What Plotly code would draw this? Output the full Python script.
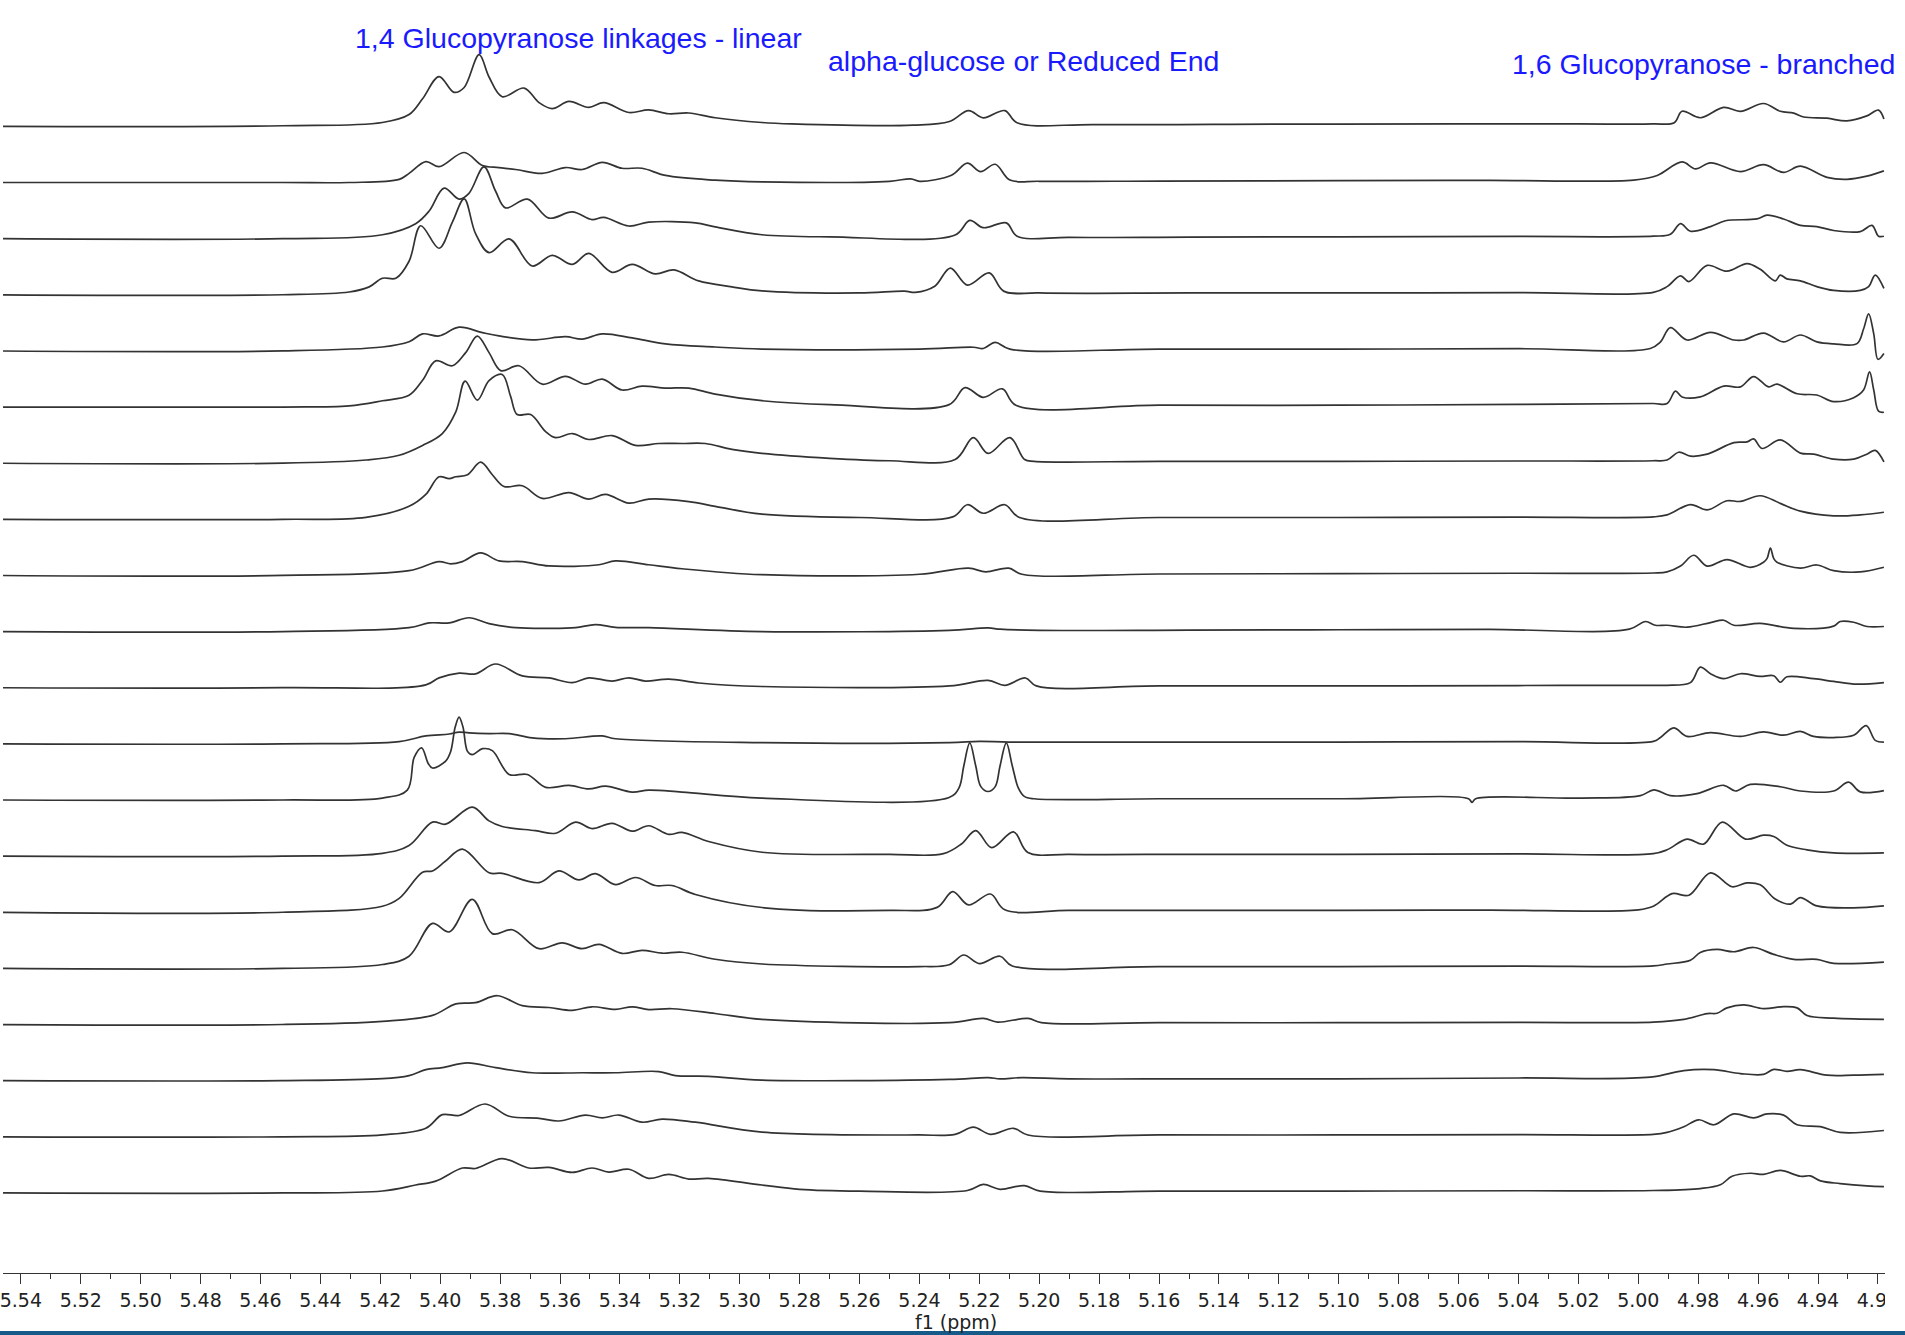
import plotly.graph_objects as go

# Stacked 1H NMR spectra, anomeric region. Each spectrum is a list of
# (chemical shift in ppm, intensity in arbitrary units) points, top trace first.
s01 = [(5.55,0),(5.4526,0.5),(5.4193,3.2),(5.4104,9.7),(5.4059,22.7),(5.4004,41),(5.3954,28),(5.392,32),(5.387,59),(5.3837,40.6),(5.3793,24.4),(5.372,31.5),(5.367,19.5),(5.3626,14.6),(5.357,20.5),(5.3504,15.6),(5.3454,19.5),(5.337,11.4),(5.3304,13.6),(5.3237,10.4),(5.317,11),(5.3082,7.1),(5.2926,3.2),(5.2827,2),(5.2422,1),(5.23,4),(5.2236,13),(5.2187,7),(5.2115,13),(5.2074,3),(5.1815,1.5),(5.12,1.8),(5.06,2),(5.02,2),(4.995,2),(4.988,3),(4.9854,12.4),(4.9793,7.1),(4.9715,15.6),(4.9659,12.4),(4.9582,18.8),(4.9526,12.4),(4.9481,10.9),(4.9448,7.7),(4.937,6.7),(4.9304,4.5),(4.9237,8.6),(4.9198,13.4),(4.918,6.1)]
s02 = [(5.55,0),(5.4526,0),(5.4304,0),(5.4137,2.6),(5.4104,7.5),(5.4048,17.2),(5.4004,13),(5.392,24.7),(5.3859,14),(5.3804,12.3),(5.3748,10.7),(5.3659,7.5),(5.3582,12.3),(5.3526,10.7),(5.3459,16.6),(5.3393,11.7),(5.3326,11.7),(5.3248,5.8),(5.3082,1.9),(5.2926,0.5),(5.25,1),(5.2429,3),(5.2399,1),(5.2293,6),(5.224,16),(5.2196,9),(5.2147,15),(5.2098,2),(5.2,1),(5.16,1.2),(5.1,1.5),(5.05,1.8),(5.0015,2),(4.9937,5.8),(4.9854,16.9),(4.9809,11.2),(4.9759,16.2),(4.9659,9),(4.9582,14.7),(4.9515,8.3),(4.9459,13.4),(4.937,4.2),(4.9304,2.6),(4.9237,5.2),(4.918,9.6)]
s03 = [(5.55,0),(5.4526,0),(5.4193,3.2),(5.4082,12.3),(5.4037,22.7),(5.3987,41.6),(5.3937,32.5),(5.3904,37.3),(5.3854,59),(5.3815,39),(5.3782,25.3),(5.3709,32.5),(5.3637,16.9),(5.3559,22),(5.3493,15.6),(5.3454,17.5),(5.337,10.4),(5.3304,13.6),(5.3148,13),(5.3082,9.7),(5.2926,3.2),(5.27,1.5),(5.2281,3),(5.2232,15),(5.2187,9),(5.211,13),(5.2074,2),(5.19,1),(5.15,1.3),(5.1,1.5),(5.04,1.8),(4.995,2),(4.9893,3.6),(4.9859,12.4),(4.9826,6.1),(4.9759,9.9),(4.9709,14.7),(4.9604,16.2),(4.957,19.4),(4.9515,16.2),(4.9459,10.9),(4.9404,9.9),(4.9348,6.7),(4.9259,5.8),(4.922,10.9),(4.9198,2),(4.918,2)]
s04 = [(5.55,0),(5.4526,0),(5.4304,2.3),(5.4237,6.5),(5.4193,13.6),(5.4148,13.6),(5.4104,27.6),(5.4065,56.8),(5.4004,38.3),(5.3959,60),(5.392,78.9),(5.3882,50.3),(5.3837,34.7),(5.377,46),(5.3693,23.7),(5.3626,32.5),(5.3559,25),(5.3504,34),(5.3426,18.5),(5.3359,25),(5.3282,17.2),(5.322,20.5),(5.3137,11.4),(5.3026,6.5),(5.2926,3.2),(5.26,1.5),(5.245,3),(5.2414,2),(5.2349,7),(5.2297,22),(5.224,8),(5.2167,18),(5.2119,3),(5.2,1.5),(5.15,1.5),(5.1,1.5),(5.04,1.8),(4.995,2),(4.9904,6.7),(4.9859,15.6),(4.9831,10.9),(4.977,24.2),(4.9704,19.4),(4.9637,25.7),(4.9593,21),(4.9543,11.5),(4.9526,16.2),(4.9504,13.1),(4.9459,11.5),(4.9404,6.7),(4.9348,3.6),(4.9259,3.6),(4.9231,6.7),(4.9209,16.2),(4.918,5.2)]
s05 = [(5.55,0),(5.4526,0),(5.4193,3.2),(5.4104,7.5),(5.4059,14),(5.4004,12.3),(5.3937,19.5),(5.3859,15),(5.3804,12.3),(5.3693,9),(5.3582,11.7),(5.3526,9.7),(5.3459,14),(5.3359,10.7),(5.3248,5.8),(5.3082,3.2),(5.2926,1.5),(5.24,1.5),(5.222,3),(5.2187,2),(5.2147,7),(5.2098,1.5),(5.16,1.5),(5.1,1.5),(5.04,1.8),(4.996,2),(4.9926,7.4),(4.9893,19.1),(4.9837,9),(4.9759,15.3),(4.9681,9),(4.9648,9),(4.9582,14.7),(4.9515,7.4),(4.9459,13.1),(4.9404,7.4),(4.9348,5.8),(4.927,6),(4.9248,18),(4.9231,30.5),(4.9214,14),(4.92,-6.9),(4.918,-2.1)]
s06 = [(5.55,0),(5.4526,0),(5.4304,1),(5.4193,5.2),(5.4104,9.7),(5.4059,22),(5.4015,38),(5.3959,34),(5.3915,44.8),(5.3876,58.4),(5.3837,44.8),(5.3798,30),(5.3737,34),(5.3659,18.8),(5.3582,25.3),(5.3515,18.8),(5.3459,23),(5.3393,14),(5.3326,17.2),(5.3248,15.6),(5.317,15.6),(5.3082,10.7),(5.2926,5.2),(5.27,2),(5.2301,2),(5.2248,16),(5.2187,8),(5.2123,15),(5.2078,1.5),(5.16,1.5),(5.1,1.5),(5.04,2.2),(4.995,2.9),(4.9904,2.9),(4.9876,13.1),(4.9854,8.3),(4.9793,8.3),(4.9715,17.2),(4.9659,16.6),(4.9615,25.1),(4.9565,16.6),(4.9537,18.8),(4.947,10.9),(4.9404,9.9),(4.9348,4.5),(4.9281,7.7),(4.9248,14),(4.9228,28.9),(4.9214,14),(4.9198,-3.4),(4.918,-4.3)]
s07 = [(5.55,0),(5.4526,0),(5.4248,2.6),(5.4137,6.5),(5.4059,14.6),(5.3993,24.4),(5.3948,42.2),(5.3917,67.5),(5.3876,51.9),(5.3837,68),(5.3793,73),(5.3765,55),(5.3743,40),(5.3698,40),(5.3648,26),(5.3615,21),(5.3559,24.4),(5.3504,19.5),(5.3426,22.7),(5.3348,14.6),(5.327,16.2),(5.3193,16.2),(5.3115,16.2),(5.3026,11.4),(5.2926,8.1),(5.27,4),(5.25,2),(5.2281,3),(5.222,21),(5.2171,8),(5.2098,21),(5.2049,3),(5.2017,1.5),(5.16,1.5),(5.1,1.5),(5.04,1.8),(4.995,2),(4.9904,2.6),(4.9865,9),(4.9826,5.8),(4.977,7.4),(4.9681,16.9),(4.9637,17.5),(4.9615,20),(4.9587,12.1),(4.9526,19.1),(4.9459,8.3),(4.9415,7.4),(4.9348,3.3),(4.9281,3.3),(4.9237,7.4),(4.9209,10.5),(4.918,1)]
s08 = [(5.55,0),(5.4526,0),(5.4248,1.6),(5.4104,10.7),(5.4048,20.5),(5.4004,35),(5.397,33.5),(5.3948,35),(5.3909,36.7),(5.3865,47),(5.3826,36.7),(5.3787,27),(5.3726,27.6),(5.3659,17.2),(5.357,22),(5.3504,16.6),(5.3448,20.5),(5.337,13.3),(5.3304,16.6),(5.317,14.6),(5.3082,10.7),(5.2926,4.2),(5.26,1.5),(5.2289,2),(5.224,12),(5.2187,5),(5.2115,12),(5.2066,1.5),(5.16,1.5),(5.1,1.5),(5.04,1.8),(4.995,2),(4.9904,3.6),(4.9826,12.1),(4.977,7.7),(4.9704,15.3),(4.9659,14.7),(4.9593,19.4),(4.9526,13.1),(4.9459,6.7),(4.9348,2.9),(4.9259,3.6),(4.918,5.8)]
s09 = [(5.55,0),(5.4526,0),(5.4104,3.9),(5.4004,11.4),(5.3965,9.5),(5.3926,11.4),(5.3865,18.5),(5.3804,12),(5.3726,11.4),(5.3637,7.8),(5.347,8.8),(5.3415,12),(5.3304,8.8),(5.3193,5.5),(5.2926,0.6),(5.24,1),(5.2236,6),(5.2179,3),(5.2102,6),(5.2058,1),(5.16,1.2),(5.1,1.5),(5.04,1.8),(4.995,2),(4.9904,2.9),(4.9859,7.7),(4.9815,16.6),(4.977,7.7),(4.9704,13.1),(4.9626,6.7),(4.9582,10.9),(4.957,14),(4.9559,22.6),(4.9548,14),(4.9537,10.9),(4.9459,6.1),(4.9404,8.6),(4.9348,3.9),(4.9259,2.9),(4.918,6.7)]
s10 = [(5.55,0),(5.4526,0),(5.4104,3.2),(5.4037,7.1),(5.397,7.1),(5.3904,11.4),(5.3837,6.5),(5.3748,3.2),(5.3637,2.6),(5.3548,3.2),(5.3482,5.8),(5.3415,3.5),(5.3304,3.2),(5.2926,0),(5.23,1),(5.2171,3),(5.2131,2),(5.2,1),(5.15,1.2),(5.1,1.5),(5.05,1.8),(5.003,2),(4.9976,8.3),(4.9943,5.2),(4.9904,5.2),(4.9837,3.6),(4.9759,7.4),(4.9715,9.3),(4.9681,5.2),(4.9593,6.7),(4.9481,2.6),(4.9348,4.5),(4.9326,8.3),(4.9281,7.7),(4.9237,4.2),(4.918,4.2)]
s11 = [(5.55,0),(5.4526,0),(5.4048,2.3),(5.4004,8.1),(5.3937,12),(5.3882,11.4),(5.3815,19.5),(5.3726,9.7),(5.3637,8.1),(5.3559,4.2),(5.3504,8.1),(5.3426,5.5),(5.337,8.1),(5.3315,5.5),(5.3237,7.1),(5.3137,3.9),(5.2926,1),(5.23,1.5),(5.2171,6),(5.2115,2),(5.2046,8),(5.201,1.5),(5.16,1.5),(5.1,1.5),(5.04,1.8),(4.995,2),(4.9904,2),(4.9826,4.2),(4.9793,16.9),(4.9759,11.5),(4.9715,7.4),(4.9659,11.5),(4.9593,9.3),(4.9548,9.9),(4.9526,4.5),(4.9504,9),(4.9415,7.4),(4.9348,5.2),(4.927,2.9),(4.918,4.2)]
s12 = [(5.55,0),(5.4526,0),(5.4137,1.9),(5.4048,6.5),(5.397,8.1),(5.3937,9.7),(5.3904,9),(5.3837,8.4),(5.377,8.4),(5.3693,4.9),(5.3582,4.2),(5.3459,6.5),(5.3415,4.2),(5.2926,1),(5.23,1),(5.22,2),(5.21,1.5),(5.16,1.5),(5.1,1.5),(5.04,1.8),(4.995,2),(4.9926,5.2),(4.9882,13.1),(4.9837,6.1),(4.9759,9.3),(4.9659,6.1),(4.9582,9.9),(4.9515,7.1),(4.9459,10.2),(4.9415,6.1),(4.9348,5.2),(4.9281,7.1),(4.9239,15),(4.9209,2.9),(4.918,1.4)]
s13 = [(5.55,0),(5.4526,0),(5.4193,1.6),(5.411,8.1),(5.4087,35),(5.4062,42.9),(5.404,30),(5.4026,26.3),(5.3982,32),(5.3965,40),(5.395,60),(5.3937,68.2),(5.3924,60),(5.3909,40),(5.3893,37.3),(5.3859,42.2),(5.3826,40.6),(5.377,21),(5.3709,21),(5.3648,10.4),(5.357,12),(5.3504,9.1),(5.3448,11.4),(5.3359,6.5),(5.3304,8.1),(5.3193,6.5),(5.2926,1.6),(5.2301,2),(5.2268,10),(5.2252,28),(5.2232,47),(5.2212,28),(5.2195,11),(5.2171,7),(5.2147,11),(5.2131,28),(5.211,47),(5.209,28),(5.207,10),(5.205,3),(5.2017,1),(5.16,1),(5.1,1),(5.0567,1),(5.0555,-2),(5.0543,1),(5.02,1.5),(4.9993,3.6),(4.9948,8.3),(4.9893,3.6),(4.9804,5.2),(4.9715,12.1),(4.9676,7.4),(4.9626,12.8),(4.9526,10.9),(4.9459,7.4),(4.9348,7.4),(4.9298,14.7),(4.9259,6.7),(4.918,7.7)]
s14 = [(5.55,0),(5.4526,0),(5.4193,2.3),(5.4104,8.8),(5.4026,28),(5.3982,26.3),(5.3893,40.3),(5.3837,29),(5.3793,24.4),(5.3682,21),(5.3615,18.8),(5.3548,28),(5.3493,22.7),(5.3426,27),(5.3359,20.5),(5.3304,25),(5.3237,17.9),(5.3193,19.5),(5.3104,12),(5.2926,3.2),(5.25,1.5),(5.232,2),(5.226,10),(5.2212,21),(5.2159,7),(5.2086,20),(5.2038,3),(5.19,1.5),(5.15,1.5),(5.1,1.5),(5.04,1.8),(4.995,2),(4.9904,5.2),(4.9837,14),(4.9782,9.9),(4.972,28),(4.9642,14),(4.9582,17.2),(4.9548,16.2),(4.9504,9),(4.9437,5.2),(4.9348,2.6),(4.918,2.6)]
s15 = [(5.55,0),(5.4526,0),(5.4193,4.9),(5.4137,11.4),(5.4059,33),(5.4026,34),(5.3982,42.2),(5.3926,52),(5.3837,32.5),(5.3793,32),(5.367,24.4),(5.3604,34),(5.3537,26.6),(5.3482,31.8),(5.3415,22.7),(5.3348,28.6),(5.3282,22),(5.3226,22),(5.3148,14.6),(5.2926,3.9),(5.25,1.5),(5.2341,4),(5.2289,17),(5.2236,6),(5.2163,15),(5.2115,2),(5.19,1.5),(5.15,1.5),(5.1,1.5),(5.05,1.8),(5.0,2),(4.9948,5.2),(4.9887,15.3),(4.9831,14),(4.9759,32.4),(4.9687,21),(4.9637,24.2),(4.9593,22.6),(4.9543,10.9),(4.9492,6.7),(4.9459,12.1),(4.9404,5.2),(4.9281,3.6),(4.918,5.2)]
s16 = [(5.55,0),(5.4526,0),(5.4193,3.2),(5.4104,10),(5.4026,37),(5.397,30),(5.3893,56.8),(5.3826,28.6),(5.3759,31.8),(5.367,16.2),(5.3593,21),(5.3526,16.2),(5.347,19.8),(5.3393,12.3),(5.3326,14.9),(5.3259,12.5),(5.3193,13.3),(5.3082,7.5),(5.2926,3.6),(5.24,1.5),(5.2301,3),(5.2252,11),(5.22,4),(5.2131,10),(5.209,2),(5.16,1.5),(5.1,1.5),(5.04,1.8),(4.995,2),(4.9904,3.6),(4.9826,6.7),(4.9793,13.1),(4.9737,15.6),(4.9681,13.7),(4.9615,17.2),(4.9548,11.5),(4.9481,7.4),(4.9404,7.4),(4.9348,4.2),(4.918,5.2)]
s17 = [(5.55,0),(5.4526,0),(5.4193,2.6),(5.4026,7.5),(5.3948,17),(5.3882,18),(5.3809,23.7),(5.3726,15.6),(5.3637,14),(5.3559,11.7),(5.3493,14.6),(5.3415,12.5),(5.3359,14.6),(5.3304,12.3),(5.3226,13),(5.3082,9.1),(5.2926,4.2),(5.23,1.5),(5.2187,5),(5.2139,2),(5.2038,5),(5.1993,1.5),(5.16,1.5),(5.1,1.5),(5.04,1.8),(4.995,2),(4.9848,4.2),(4.977,9),(4.9737,9.3),(4.9704,13.7),(4.9648,16.2),(4.9582,13.1),(4.9515,14.7),(4.947,13.7),(4.9437,7.4),(4.9348,5.2),(4.918,4.2)]
s18 = [(5.55,0),(5.4526,0),(5.4193,1.6),(5.4104,4.2),(5.4048,9.1),(5.3993,10.7),(5.3909,14.6),(5.3815,10.7),(5.3693,6.5),(5.3526,6.5),(5.3415,6.5),(5.327,7.5),(5.3215,4.2),(5.3104,3.6),(5.2926,0.5),(5.23,1),(5.2171,2.5),(5.2131,1.5),(5.2058,2.5),(5.19,1.5),(5.15,1.5),(5.1,1.5),(5.04,2.2),(4.996,2.9),(4.9848,8.3),(4.9748,9),(4.9659,5.8),(4.9582,5.2),(4.9548,9.3),(4.9504,7.7),(4.9459,9),(4.937,4.5),(4.9281,4.5),(4.918,5.2)]
s19 = [(5.55,0),(5.4526,0),(5.4193,1.6),(5.4048,7.1),(5.3993,18.2),(5.3937,17.5),(5.385,27),(5.377,16.9),(5.367,15.2),(5.3604,13),(5.3515,17.9),(5.3459,15.5),(5.3404,17.9),(5.3326,12),(5.3259,14.6),(5.3148,12),(5.2926,3.9),(5.24,1.5),(5.2281,2),(5.222,8),(5.2163,2),(5.2086,7),(5.2038,1.5),(5.16,1.5),(5.1,1.5),(5.04,1.8),(4.995,2),(4.9904,3.6),(4.9848,8.3),(4.9798,14),(4.9748,9.9),(4.9681,18.8),(4.9615,15.6),(4.957,18.8),(4.9515,17.8),(4.947,9.9),(4.9392,8.3),(4.9326,3.6),(4.918,5.2)]
s20 = [(5.55,0),(5.4526,0),(5.4193,1.6),(5.4082,6.5),(5.4015,9.7),(5.3926,20.5),(5.3882,20.1),(5.3793,28.2),(5.3704,20.5),(5.3637,21),(5.3559,16.9),(5.3493,20.5),(5.3437,17.2),(5.337,19.5),(5.3304,12),(5.3237,15.2),(5.317,11.4),(5.3104,12),(5.2926,6.5),(5.28,3),(5.26,1.5),(5.224,2),(5.2187,7),(5.2131,3),(5.205,6),(5.1997,1.5),(5.16,1.5),(5.1,1.5),(5.04,1.8),(4.995,2),(4.9793,3.6),(4.9726,6.7),(4.9687,13.7),(4.9626,16.2),(4.9582,15.3),(4.9526,18.5),(4.9459,13.7),(4.9426,14),(4.9392,9.9),(4.9326,7.7),(4.9237,5.8),(4.918,5.2)]

spectra = [s01, s02, s03, s04, s05, s06, s07, s08, s09, s10,
           s11, s12, s13, s14, s15, s16, s17, s18, s19, s20]

# Region labels and the shift where each label begins
region_labels = ["1,4 Glucopyranose linkages - linear",
                 "alpha-glucose or Reduced End",
                 "1,6 Glucopyranose - branched"]
region_ppm = [5.4290, 5.2713, 5.0430]
region_y = [0.9702, 0.9521, 0.9497]

# Axis ticks (ppm)
tick_values = [5.54, 5.52, 5.50, 5.48, 5.46, 5.44, 5.42, 5.40, 5.38, 5.36, 5.34,
               5.32, 5.30, 5.28, 5.26, 5.24, 5.22, 5.20, 5.18, 5.16, 5.14, 5.12,
               5.10, 5.08, 5.06, 5.04, 5.02, 5.00, 4.98, 4.96, 4.94, 4.92]
axis_title = "f1 (ppm)"

# vertical stacking of the spectra (intensity units)
top_offset = 943.7
stack_step = 46.2
line_color = "#333333"

fig = go.Figure()
for i, spec in enumerate(spectra):
    xs = [p for p, _ in spec]
    ys = [v + top_offset - stack_step * i for _, v in spec]
    fig.add_trace(go.Scatter(
        x=xs, y=ys, mode="lines",
        line=dict(color=line_color, width=1.7, shape="spline", smoothing=1.0),
        hoverinfo="skip", showlegend=False,
    ))

for text, ppm, yp in zip(region_labels, region_ppm, region_y):
    fig.add_annotation(
        x=ppm, xref="x", y=yp, yref="paper",
        text=text, showarrow=False, xanchor="left", yanchor="middle",
        font=dict(family="Liberation Sans, Arial, sans-serif", size=28.5, color="#1a1aff"),
    )

tick_font = dict(family="DejaVu Sans, Verdana, sans-serif", size=19, color="#222222")

# axis title, centred slightly right of the plot middle
fig.add_annotation(
    x=5.2277, xref="x", y=-0.0385, yref="paper",
    text=axis_title, showarrow=False, xanchor="center", yanchor="middle",
    font=tick_font,
)

fig.update_layout(
    width=1905, height=1335,
    margin=dict(l=0, r=20, t=0, b=62),
    paper_bgcolor="white", plot_bgcolor="white",
    showlegend=False,
    xaxis=dict(
        range=[5.54597, 4.91764],
        tickmode="array", tickvals=tick_values,
        ticktext=[f"{v:.2f}" for v in tick_values],
        ticks="outside", ticklen=10, tickwidth=1, tickcolor="#333333",
        showline=True, linecolor="#333333", linewidth=1,
        showgrid=False, zeroline=False,
        ticklabeloverflow="allow",
        tickfont=tick_font,
        minor=dict(tickmode="linear", tick0=5.53, dtick=0.02, ticks="outside",
                   ticklen=5, tickwidth=1, tickcolor="#333333", showgrid=False),
    ),
    yaxis=dict(visible=False, range=[0, 1047.7], fixedrange=True),
    shapes=[
        # the axis labels stop at the right edge of the plotting area
        dict(type="rect", xref="paper", yref="paper", x0=1.0, x1=1.03,
             y0=-0.043, y1=-0.007, fillcolor="white", line=dict(width=0), layer="above"),
        # window frame strip along the bottom
        dict(type="rect", xref="paper", yref="paper", x0=-0.01, x1=1.03,
             y0=-0.0495, y1=-0.0456, fillcolor="#165a8a", line=dict(width=0), layer="above"),
    ],
)

fig.write_html("out.html")
